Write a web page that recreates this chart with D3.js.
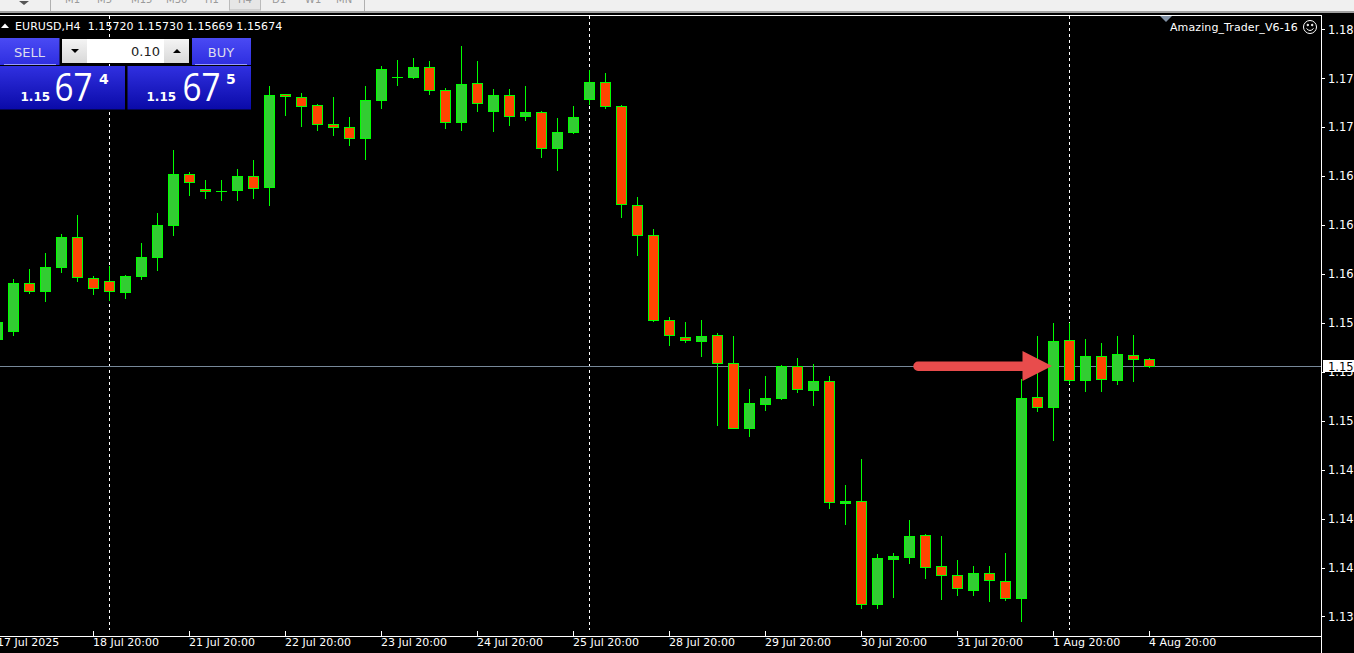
<!DOCTYPE html>
<html><head><meta charset="utf-8">
<script src="https://cdn.jsdelivr.net/npm/d3@7/dist/d3.min.js"></script>
<style>html,body{margin:0;padding:0;background:#000;overflow:hidden}svg{display:block}text{font-family:"DejaVu Sans",sans-serif}</style>
</head><body><svg id="c" width="1354" height="653"></svg>
<script>
const opens=[1.15861,1.15916,1.16247,1.16192,1.16358,1.16565,1.16282,1.16261,1.16185,1.16296,1.16427,1.16648,1.16999,1.16896,1.16882,1.16889,1.16986,1.16910,1.17551,1.17531,1.17476,1.17344,1.17324,1.17248,1.17510,1.17669,1.17669,1.17738,1.17579,1.17358,1.17627,1.17434,1.17545,1.17400,1.17427,1.17179,1.17289,1.17517,1.17634,1.17469,1.16786,1.16579,1.15992,1.15875,1.15847,1.15889,1.15695,1.15247,1.15412,1.15454,1.15675,1.15509,1.15571,1.14729,1.14743,1.14032,1.14343,1.14357,1.14509,1.14295,1.14233,1.14129,1.14246,1.14191,1.14074,1.15461,1.15392,1.15854,1.15578,1.15744,1.15578,1.15751,1.15720];
const highs=[1.16027,1.16275,1.16344,1.16454,1.16585,1.16717,1.16296,1.16365,1.16303,1.16523,1.16730,1.17165,1.17013,1.16958,1.16958,1.17034,1.17096,1.17607,1.17551,1.17558,1.17482,1.17531,1.17393,1.17607,1.17745,1.17786,1.17800,1.17779,1.17593,1.17883,1.17779,1.17586,1.17586,1.17607,1.17434,1.17386,1.17469,1.17717,1.17696,1.17476,1.16841,1.16620,1.16013,1.15978,1.15992,1.15902,1.15882,1.15516,1.15606,1.15682,1.15730,1.15688,1.15606,1.14854,1.15033,1.14377,1.14384,1.14612,1.14515,1.14502,1.14336,1.14295,1.14295,1.14384,1.15585,1.15882,1.15971,1.15971,1.15861,1.15833,1.15882,1.15889,1.15730];
const lows=[1.15820,1.15889,1.16178,1.16123,1.16323,1.16261,1.16171,1.16130,1.16144,1.16275,1.16337,1.16579,1.16855,1.16834,1.16820,1.16820,1.16834,1.16786,1.17407,1.17331,1.17303,1.17269,1.17200,1.17103,1.17455,1.17614,1.17662,1.17551,1.17317,1.17303,1.17434,1.17296,1.17338,1.17372,1.17117,1.17027,1.17282,1.17482,1.17455,1.16703,1.16441,1.15985,1.15820,1.15840,1.15744,1.15268,1.15247,1.15192,1.15371,1.15447,1.15495,1.15406,1.14695,1.14584,1.14005,1.14005,1.14081,1.14315,1.14212,1.14067,1.14095,1.14095,1.14053,1.14060,1.13915,1.15364,1.15164,1.15557,1.15502,1.15502,1.15550,1.15571,1.15669];
const closes=[1.15978,1.16247,1.16192,1.16358,1.16565,1.16289,1.16213,1.16192,1.16296,1.16427,1.16648,1.16999,1.16944,1.16882,1.16882,1.16986,1.16903,1.17545,1.17538,1.17469,1.17344,1.17324,1.17248,1.17510,1.17724,1.17669,1.17738,1.17579,1.17358,1.17620,1.17489,1.17545,1.17400,1.17427,1.17179,1.17289,1.17393,1.17634,1.17469,1.16792,1.16579,1.15992,1.15889,1.15854,1.15882,1.15695,1.15247,1.15419,1.15454,1.15675,1.15516,1.15571,1.14736,1.14743,1.14032,1.14350,1.14364,1.14502,1.14288,1.14233,1.14143,1.14246,1.14198,1.14074,1.15454,1.15392,1.15847,1.15578,1.15744,1.15585,1.15757,1.15723,1.15674];
const priceTicks=[1.18000,1.17662,1.17325,1.16987,1.16650,1.16312,1.15975,1.15637,1.15300,1.14962,1.14625,1.14287,1.13950];
const timeTickIndex=[0,6,12,18,24,30,36,42,48,54,60,66,72];
const timeLabels=["17 Jul 2025","18 Jul 20:00","21 Jul 20:00","22 Jul 20:00","23 Jul 20:00","24 Jul 20:00","25 Jul 20:00","28 Jul 20:00","29 Jul 20:00","30 Jul 20:00","31 Jul 20:00","1 Aug 20:00","4 Aug 20:00"];
const periodSeparators=[7,37,67];
const periods=["M1","M5","M15","M30","H1","H4","D1","W1","MN"];
const periodX=[65,97,131,166,205,238,272,305,336];
const lastBid=1.15674;
const header="EURUSD,H4  1.15720 1.15730 1.15669 1.15674";
const indicatorName="Amazing_Trader_V6-16";

const svg=d3.select("#c");
const W=1354,H=653,R=1321,B=636,T=15;
const x=d3.scaleLinear().domain([0,1]).range([-2.5,13.5]);
const y=d3.scaleLinear().domain([1.18,1.13950]).range([29.4,29.4+(1.18-1.1395)/0.000069]);
const row=v=>Math.floor(y(v));

const defs=svg.append("defs");
const grad=(id,a,b)=>{const g=defs.append("linearGradient").attr("id",id).attr("x1",0).attr("y1",0).attr("x2",0).attr("y2",1);
  g.append("stop").attr("offset",0).attr("stop-color",a);g.append("stop").attr("offset",1).attr("stop-color",b);};
grad("bt","#4a4af4","#2e2ee0");grad("pr","#3030e0","#0a0aa8");grad("gb","#f4f4f4","#d8d8d8");

svg.append("rect").attr("width",W).attr("height",H).attr("fill","#000");
// toolbar
svg.append("rect").attr("width",W).attr("height",11).attr("fill","#f0f0f0");
svg.append("rect").attr("y",11).attr("width",W).attr("height",2).attr("fill","#a0a0a0");
svg.append("path").attr("d","M19 1H29L24 5Z").attr("fill","#555");
[50,364].forEach(px=>svg.append("rect").attr("x",px).attr("y",0).attr("width",1).attr("height",11).attr("fill","#b0b0b0"));
svg.append("rect").attr("x",229.5).attr("y",-1).attr("width",31).attr("height",11).attr("fill","#e6e6e6").attr("stroke","#bbb");
svg.selectAll(".per").data(periods).join("text").attr("x",(d,i)=>periodX[i]).attr("y",3).attr("font-size",10).attr("fill","#9a9a9a").text(d=>d);

// separators
svg.selectAll(".sep").data(periodSeparators).join("line").attr("x1",d=>x(d)).attr("x2",d=>x(d)).attr("y1",T+1).attr("y2",B-6)
  .attr("stroke","#fff").attr("stroke-dasharray","3,3").attr("shape-rendering","crispEdges");

// price line
svg.append("line").attr("x1",0).attr("x2",R).attr("y1",row(lastBid)+.5).attr("y2",row(lastBid)+.5).attr("stroke","#778899").attr("shape-rendering","crispEdges");

// candles
const data=opens.map((o,i)=>({i,o,h:highs[i],l:lows[i],c:closes[i],top:row(Math.max(o,closes[i])),bot:row(Math.min(o,closes[i]))}));
const g=svg.append("g").attr("shape-rendering","crispEdges");
g.selectAll(".w").data(data).join("rect").attr("x",d=>x(d.i)-.5).attr("width",1).attr("y",d=>row(d.h)).attr("height",d=>row(d.l)-row(d.h)+1).attr("fill","#00ff00");
g.selectAll(".b").data(data).join("rect").attr("x",d=>x(d.i)-5.5).attr("width",11).attr("y",d=>d.top).attr("height",d=>d.bot-d.top+1).attr("fill","#00ff00");
g.selectAll(".f").data(data.filter(d=>d.bot-d.top>=2)).join("rect").attr("x",d=>x(d.i)-4.5).attr("width",9).attr("y",d=>d.top+1).attr("height",d=>d.bot-d.top-1)
  .attr("fill",d=>d.c>=d.o?"#32cd32":"#ff4500");

// frame
svg.append("path").attr("d",`M0 ${T+.5}H${R+.5}V${H}M0 ${B+.5}H${R+.5}`).attr("fill","none").attr("stroke","#fff").attr("shape-rendering","crispEdges");

// axes
const yAxis=d3.axisRight(y).tickValues(priceTicks).tickSize(3).tickPadding(3).tickFormat(d3.format(".5f"));
const ya=svg.append("g").attr("transform",`translate(${R+1},0)`).call(yAxis);
ya.select(".domain").remove();
ya.selectAll("line").attr("stroke","#fff").attr("shape-rendering","crispEdges");
ya.selectAll("text").attr("fill","#fff").attr("font-size",11.5).attr("dy","0.32em").style("font-family",'"DejaVu Sans"');
const xAxis=d3.axisBottom(x).tickValues(timeTickIndex).tickSize(0).tickFormat((d,i)=>timeLabels[i]);
const xa=svg.append("g").attr("transform",`translate(0,${B+1})`).call(xAxis);
xa.select(".domain").remove();
xa.selectAll("text").attr("fill","#fff").attr("font-size",11).attr("text-anchor","start").attr("dx",-1).attr("y",1).style("font-family",'"DejaVu Sans"');
svg.selectAll(".xt").data(timeTickIndex).join("line").attr("x1",d=>x(d)).attr("x2",d=>x(d)).attr("y1",B-5).attr("y2",B).attr("stroke","#fff").attr("shape-rendering","crispEdges");

// bid label
svg.append("rect").attr("x",R+2).attr("y",row(lastBid)-6).attr("width",W-R-2).attr("height",12).attr("fill","#fff");
svg.append("text").attr("x",R+7).attr("y",row(lastBid)+5).attr("font-size",11.5).attr("fill","#000").text(d3.format(".5f")(lastBid));

// header
svg.append("path").attr("d","M1 28L5 23.5L9 28Z").attr("fill","#fff");
svg.append("text").attr("x",15).attr("y",29.5).attr("font-size",11).attr("letter-spacing",0.07).attr("fill","#fff").style("white-space","pre").text(header);

// indicator
svg.append("path").attr("d","M1160 16H1172L1166 22Z").attr("fill","#8090a4");
svg.append("text").attr("x",1170).attr("y",31).attr("font-size",11).attr("letter-spacing",0.1).attr("fill","#fff").text(indicatorName);
const s=svg.append("g").attr("transform","translate(1310,27)").attr("fill","none").attr("stroke","#fff");
s.append("circle").attr("r",6.5);
s.append("path").attr("d","M-3.5 1.5Q0 5.5 3.5 1.5");
s.append("circle").attr("cx",-2.2).attr("cy",-2).attr("r",.8).attr("fill","#fff");
s.append("circle").attr("cx",2.2).attr("cy",-2).attr("r",.8).attr("fill","#fff");

// trade panel
svg.append("rect").attr("x",0).attr("y",38).attr("width",59.5).attr("height",27).attr("fill","url(#bt)");
svg.append("rect").attr("x",192).attr("y",38).attr("width",59).attr("height",27).attr("fill","url(#bt)");
svg.append("rect").attr("x",4).attr("y",64).attr("width",52).attr("height",1).attr("fill","#9a9aff");
svg.append("rect").attr("x",195).attr("y",64).attr("width",52).attr("height",1).attr("fill","#9a9aff");
svg.append("text").attr("x",29.5).attr("y",57).attr("text-anchor","middle").attr("font-size",13).attr("fill","#dde").text("SELL");
svg.append("text").attr("x",221).attr("y",57).attr("text-anchor","middle").attr("font-size",13).attr("fill","#dde").text("BUY");
svg.append("rect").attr("x",62).attr("y",39).attr("width",127).attr("height",24).attr("fill","url(#gb)");
svg.append("rect").attr("x",87).attr("y",39).attr("width",77).attr("height",24).attr("fill","#fff");
svg.append("path").attr("d","M71 49H79L75 53Z").attr("fill","#000");
svg.append("path").attr("d","M173 53H181L177 49Z").attr("fill","#000");
svg.append("text").attr("x",160).attr("y",56).attr("text-anchor","end").attr("font-size",13).attr("fill","#222").text("0.10");
[[0,125,20.5,54.5,99,"4"],[127.5,123.5,146.5,182.5,226,"5"]].forEach(p=>{
  svg.append("rect").attr("x",p[0]).attr("y",66).attr("width",p[1]).attr("height",43.5).attr("fill","url(#pr)");
  svg.append("text").attr("x",p[2]).attr("y",101).attr("font-size",12).attr("font-weight","bold").attr("fill","#fff").text("1.15");
  svg.append("text").attr("x",p[3]).attr("y",101).attr("font-size",38).attr("textLength",38).attr("lengthAdjust","spacingAndGlyphs").style("font-family","'Open Sans'").attr("fill","#fff").text("67");
  svg.append("text").attr("x",p[4]).attr("y",83.5).attr("font-size",14).attr("font-weight","bold").attr("fill","#fff").text(p[5]);
});

// arrow annotation
svg.append("path").attr("d","M918 361.5H1022.5V351L1052 366L1022.5 381V371H918A4.7 4.7 0 0 1 918 361.5Z").attr("fill","#e84c4c");
</script></body></html>
